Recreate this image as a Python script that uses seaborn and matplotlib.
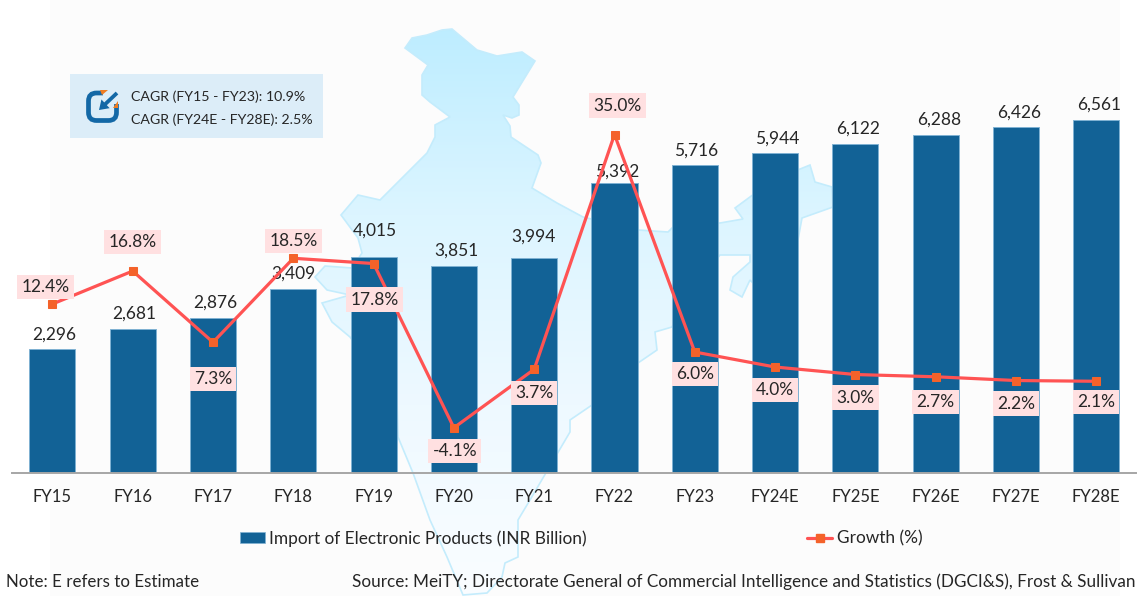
import numpy as np
import matplotlib
matplotlib.use("Agg")
import matplotlib.pyplot as plt
from matplotlib.colors import LinearSegmentedColormap
from matplotlib.lines import Line2D
from matplotlib.patches import Patch, Polygon, Rectangle, FancyBboxPatch, FancyArrow
import seaborn as sns

# ---- data -------------------------------------------------------------
categories = ["FY15", "FY16", "FY17", "FY18", "FY19", "FY20", "FY21", "FY22",
              "FY23", "FY24E", "FY25E", "FY26E", "FY27E", "FY28E"]
imports = [2296, 2681, 2876, 3409, 4015, 3851, 3994, 5392,
           5716, 5944, 6122, 6288, 6426, 6561]
growth = [12.4, 16.8, 7.3, 18.5, 17.8, -4.1, 3.7, 35.0,
          6.0, 4.0, 3.0, 2.7, 2.2, 2.1]
cagr_lines = ["CAGR (FY15 - FY23): 10.9%", "CAGR (FY24E - FY28E): 2.5%"]
series_names = ["Import of Electronic Products (INR Billion)", "Growth (%)"]
note = "Note: E refers to Estimate"
source = "Source: MeiTY; Directorate General of Commercial Intelligence and Statistics (DGCI&S), Frost & Sullivan"

# ---- label placement (pixels relative to the mark) ---------------------
bar_label_dx = [2, 2, 2, 0, 1, 3, -1, 3, 1, 2, 3, 3, 3, 3]
bar_label_dy = [15, 15, 15, 16, 26, 15, 21, 11, 15, 15, 15, 15, 15, 15]
growth_label_dx = [-7, 0, 0, 0, 1, 1, 0, 3, 0, 0, 0, 0, 0, 0]
growth_label_dy = [17, 29, -37, 17, -36, -23, -24, 29, -22, -23, -23, -25, -23, -21]

# ---- decorative India outline, in picture pixels ------------------------
india_outline = [
    (405, 48), (412, 38), (427, 35), (442, 30), (452, 29), (477, 50), (497, 56),
    (522, 52), (535, 61), (513, 97), (519, 105), (519, 115), (512, 118), (503, 115),
    (510, 126), (511, 137), (538, 155), (541, 163), (532, 188), (557, 203), (583, 217),
    (638, 230), (668, 232), (677, 223), (720, 223), (743, 219), (735, 208), (773, 180),
    (810, 165), (815, 182), (832, 187), (833, 207), (802, 218), (798, 240), (790, 262),
    (755, 285), (750, 280), (742, 297), (730, 290), (733, 277), (750, 262), (750, 255),
    (720, 255), (685, 300), (672, 327), (655, 332), (657, 350), (638, 363), (592, 405),
    (570, 420), (570, 432), (530, 500), (518, 520), (518, 557), (505, 563), (502, 577),
    (487, 593), (463, 595), (447, 557), (430, 520), (413, 473), (398, 437), (397, 400),
    (350, 337), (332, 322), (322, 303), (350, 295), (327, 290), (315, 277), (325, 266),
    (352, 268), (362, 253), (358, 238), (341, 215), (358, 195), (380, 200), (397, 183),
    (427, 153), (435, 137), (435, 125), (450, 117), (430, 102), (422, 95), (422, 75),
    (428, 65),
]

W, H = 1140, 596
sns.set_theme(style="white")
plt.rcParams["font.family"] = ["Lato", "DejaVu Sans"]
text_color = "#262626"

fig = plt.figure(figsize=(W / 100, H / 100), dpi=100, facecolor="white")

# background layer addressed in picture pixels
bg = fig.add_axes([0, 0, 1, 1], zorder=0)
bg.axis("off")
bg.add_patch(Rectangle((50, 0), 1070, H, fc="#fcfcfc", ec="none", zorder=0))
outline = Polygon(india_outline, closed=True, fc="none", ec="#c4ecfc", lw=1.2, zorder=2)
bg.add_patch(outline)
cmap = LinearSegmentedColormap.from_list("map", ["#bdedff", "#dcf5ff", "#eef9ff", "#fafdff"])
img = bg.imshow(np.linspace(0, 1, 256).reshape(-1, 1), cmap=cmap, aspect="auto",
                extent=(300, 850, 595, 25), zorder=1)
img.set_clip_path(outline)
bg.set_xlim(0, W)
bg.set_ylim(H, 0)

# CAGR call-out
bg.add_patch(Rectangle((70, 74), 253, 64, fc="#dcedf8", ec="none", zorder=3))
for line, y in zip(cagr_lines, (97, 120)):
    bg.text(131, y, line, fontsize=10.2, color=text_color, va="center", ha="left", zorder=4)
icon_blue = "#1368a6"
bg.add_patch(FancyBboxPatch((88.5, 93), 28, 27.5, boxstyle="round,pad=0,rounding_size=8",
                            fc="none", ec=icon_blue, lw=3.4, zorder=4))
bg.add_patch(Rectangle((103, 89), 17, 15, fc="#dcedf8", ec="none", zorder=5))
bg.add_patch(FancyArrow(117, 93, -18, 17, width=3.8, head_width=12, head_length=9,
                        length_includes_head=True, fc=icon_blue, ec="none", zorder=6))
bg.add_patch(Polygon([(100, 90), (108, 90), (102, 95)], fc="#ef7d22", ec="none", zorder=6))
bg.add_patch(Polygon([(113, 108), (118, 101), (118, 108)], fc="#ef7d22", ec="none", zorder=6))

# footer
bg.text(6, 582, note, fontsize=12.2, color=text_color, va="center", ha="left", zorder=4)
bg.text(1136, 582, source, fontsize=12.3, color=text_color, va="center", ha="right", zorder=4)

# bars
left, right, base, top = 12.25, 1136.45, 472.7, 20
ax = fig.add_axes([left / W, 1 - base / H, (right - left) / W, (base - top) / H], zorder=1)
ax.patch.set_visible(False)
bar_color = "#126296"
sns.barplot(x=categories, y=imports, ax=ax, color=bar_color, saturation=1, width=0.573,
            edgecolor="#7fb2d3", linewidth=0.7)
ax.set_xlim(-0.5, 13.5)
ax.set_ylim(0, 8421)
ax.set_ylabel("")
ax.set_yticks([])
for s in ("top", "left", "right"):
    ax.spines[s].set_visible(False)
ax.spines["bottom"].set_color("#a6a6a6")
ax.spines["bottom"].set_linewidth(1.4)
ax.tick_params(axis="x", length=0, pad=12, labelsize=12, labelcolor=text_color)

for i, v in enumerate(imports):
    ax.annotate(f"{v:,}", (i, v), xytext=(bar_label_dx[i], bar_label_dy[i]),
                textcoords="offset pixels", ha="center", va="center",
                fontsize=12.5, color=text_color)

# growth line
ax2 = ax.twinx()
ax2.set_zorder(2)
ax2.patch.set_visible(False)
line_color, marker_color = "#ff5353", "#f4622a"
sns.lineplot(x=np.arange(len(categories)), y=growth, ax=ax2, color=line_color, linewidth=2.3,
             marker="s", markersize=5.4, markerfacecolor=marker_color,
             markeredgecolor=marker_color, legend=False, errorbar=None)
ax2.set_xlim(-0.5, 13.5)
ax2.set_ylim(-10.09, 50.27)
ax2.set_yticks([])
ax2.set_ylabel("")
for s in ax2.spines.values():
    s.set_visible(False)

for i, v in enumerate(growth):
    ax2.annotate(f"{v:.1f}%", (i, v), xytext=(growth_label_dx[i], growth_label_dy[i]),
                 textcoords="offset pixels", ha="center", va="center",
                 fontsize=12.5, color=text_color, zorder=5,
                 bbox=dict(boxstyle="square,pad=0.24", fc="#ffe0e1", ec="none"))

# legend
handles = [Patch(fc=bar_color, ec="#7fb2d3", lw=0.5),
           Line2D([], [], color=line_color, lw=2.3, marker="s", markersize=5.4,
                  markerfacecolor=marker_color, markeredgecolor=marker_color)]
fig.legend(handles, series_names, loc="center left", bbox_to_anchor=(240 / W, 1 - 538.5 / H),
           ncol=2, frameon=False, fontsize=12.4, borderpad=0, borderaxespad=0,
           handlelength=1.45, handleheight=0.6, handletextpad=0.25, columnspacing=12.8,
           labelcolor=text_color)

fig.savefig("out.png", dpi=100, facecolor="white")
